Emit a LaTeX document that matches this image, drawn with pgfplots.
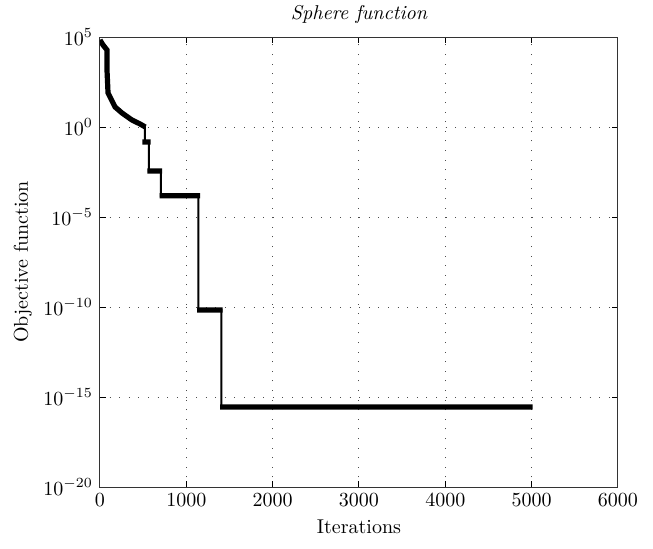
\documentclass[border=0pt]{standalone}
\usepackage{pgfplots}
\pgfplotsset{compat=1.18}

\begin{document}
\begin{tikzpicture}
\path[use as bounding box] (-50pt,-30.5pt) rectangle (276.5pt,243.5pt);

% top-only minor ticks
\begin{axis}[
    scale only axis,
    width=259pt, height=225pt,
    xmin=0, xmax=6000, ymin=0, ymax=1,
    axis x line*=top, axis y line=none,
    xtick=\empty, ytick=\empty,
    minor xtick={0,111.1,...,6000},
    tick align=inside,
    minor tick length=1.5pt,
    axis line style={draw=none},
    minor tick style={black, line width=0.5pt},
]
\addplot[draw=none] coordinates {(0,0)};
\end{axis}

\begin{semilogyaxis}[
    scale only axis,
    width=259pt, height=225pt,
    xmin=0, xmax=6000,
    ymin=1e-20, ymax=1e5,
    tick align=inside,
    major tick length=3pt,
    axis line style={line width=0.5pt, black!80},
    major tick style={black, line width=0.5pt},
    xtick={0,1000,...,6000},
    xticklabel style={/pgf/number format/1000 sep={}},
    ytick={1e-20,1e-15,1e-10,1e-5,1,1e5},
    yminorticks=false,
    grid=major,
    grid style={black!70, line width=0.5pt, dash pattern=on 0.5pt off 4.3pt},
    tick label style={font=\fontsize{10}{12}\selectfont},
    label style={font=\fontsize{10}{12}\selectfont},
    xlabel={Iterations},
    ylabel={Objective function},
    xlabel style={at={(axis description cs:0.5,-0.089)}, anchor=center},
    ylabel style={at={(axis description cs:-0.149,0.5)}, anchor=center},
    every axis title shift=0pt,
    title={Sphere function},
    title style={at={(axis description cs:0.5,1.049)}, anchor=center, yshift=0pt, font=\fontsize{10}{12}\selectfont\itshape},
    unbounded coords=jump,
]
% thin step line
\addplot[black, line width=1pt] coordinates {
 (0,6.8e4) (35,3.6e4) (81,1.9e4) (81,1.5e3) (93,78) (116,47) (174,13)
 (255,6) (370,2.45) (463,1.48) (520,1.0) (520,0.148) (567,0.148)
 (567,3.6e-3) (706,3.6e-3) (706,1.5e-4) (1140,1.5e-4) (1140,6.8e-11)
 (1407,6.8e-11) (1407,2.8e-16) (5000,2.8e-16)
};
% dense markers, drawn as thick bands
\addplot[black, line width=2.6pt] coordinates {
 (0,6.8e4) (35,3.6e4) (81,1.9e4) (81,1.5e3) (93,78) (116,47) (174,13)
 (255,6) (370,2.45) (463,1.48) (525,1.0)
 (480,nan)
 (490,0.148) (585,0.148)
 (550,nan)
 (550,3.6e-3) (720,3.6e-3)
 (700,nan)
 (690,1.5e-4) (1160,1.5e-4)
 (1150,nan)
 (1125,6.8e-11) (1420,6.8e-11)
 (1400,nan)
 (1390,2.8e-16) (5010,2.8e-16)
};
\end{semilogyaxis}
\end{tikzpicture}
\end{document}
